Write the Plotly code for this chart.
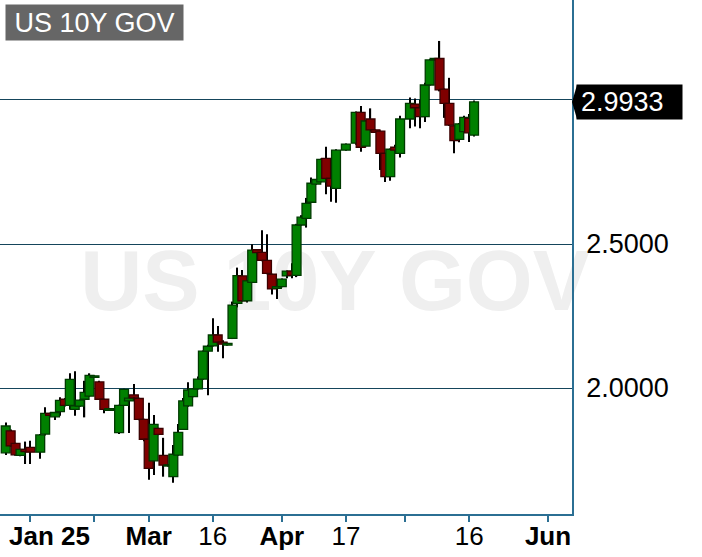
import plotly.graph_objects as go

# one slot per session (short Sunday sessions included); None = empty slot
open_ = [1.775, 1.851, 1.808, 1.766, 1.787, 1.794, None, 1.777, 1.840, 1.912,
         1.900, 1.918, 1.961, 1.940, 1.926, 1.937, 1.961, 1.972, 2.037, 2.021,
         1.961, 1.922, None, 1.845, 1.940, 1.955, 1.976, 1.964, 1.891, 1.822,
         1.747, 1.860, 1.766, 1.729, 1.692, 1.767, 1.856, 1.938, 1.970, 1.997,
         2.031, 2.128, 2.146, 2.184, 2.159, 2.149, 2.172, 2.294, 2.389, 2.303,
         2.367, 2.480, 2.471, 2.443, 2.395, 2.346, 2.352, 2.389, 2.406, 2.391,
         2.566, 2.589, 2.645, 2.708, 2.716, 2.797, 2.728, 2.693, None, 2.826,
         None, 2.850, 2.957, 2.840, 2.934, 2.896, 2.892, 2.815, 2.734, 2.836,
         2.815, None, 2.934, 2.986, 2.973, 2.942, 3.052, 3.139, 3.144, 3.038,
         2.988, 2.910, 2.863, 2.890, 2.936, 2.878]
high = [1.880, 1.856, 1.810, 1.789, 1.814, 1.817, None, 1.840, 1.933, 1.914,
        1.917, 1.968, 1.965, 2.051, 2.058, 1.960, 2.025, 2.051, 2.044, 2.025,
        1.963, 1.930, None, 1.942, 1.997, 1.967, 2.014, 1.966, 1.893, 1.949,
        1.906, 1.862, 1.827, 1.735, 1.802, 1.875, 1.965, 2.020, 1.999, 2.040,
        2.130, 2.150, 2.242, 2.215, 2.166, 2.157, 2.300, 2.418, 2.410, 2.375,
        2.499, 2.482, 2.548, 2.534, 2.397, 2.354, 2.380, 2.408, 2.433, 2.570,
        2.600, 2.660, 2.731, 2.726, 2.797, 2.838, 2.730, 2.829, None, 2.849,
        None, 2.960, 2.979, 2.930, 2.971, 2.898, 2.894, 2.817, 2.832, 2.845,
        2.945, None, 3.009, 3.005, 3.001, 3.060, 3.142, 3.146, 3.205, 3.040,
        3.077, 2.912, 2.920, 2.945, 2.951, 2.998]
low = [1.767, 1.795, 1.765, 1.763, 1.736, 1.736, None, 1.754, 1.835, 1.902,
       1.889, 1.904, 1.936, 1.925, 1.904, 1.935, 1.898, 1.970, 2.035, 1.958,
       1.912, 1.920, None, 1.840, 1.938, 1.844, 1.964, 1.888, 1.815, 1.681,
       1.698, 1.836, 1.692, 1.727, 1.671, 1.765, 1.854, 1.935, 1.968, 1.995,
       2.029, 1.975, 2.144, 2.126, 2.103, 2.147, 2.170, 2.280, 2.300, 2.297,
       2.365, 2.468, 2.440, 2.395, 2.325, 2.309, 2.350, 2.381, 2.381, 2.385,
       2.563, 2.557, 2.643, 2.706, 2.714, 2.673, 2.647, 2.643, None, 2.824,
       None, 2.845, 2.820, 2.835, 2.890, 2.886, 2.757, 2.715, 2.720, 2.820,
       2.800, None, 2.902, 2.908, 2.902, 2.924, 3.050, 3.137, 3.030, 2.938,
       2.910, 2.815, 2.853, 2.888, 2.854, 2.873]
close = [1.868, 1.799, 1.768, 1.787, 1.779, 1.777, None, 1.837, 1.912, 1.905,
         1.915, 1.957, 1.940, 2.030, 1.938, 1.958, 1.985, 2.044, 2.042, 1.961,
         1.926, 1.928, None, 1.940, 1.995, 1.965, 1.966, 1.891, 1.822, 1.721,
         1.874, 1.839, 1.732, 1.733, 1.770, 1.846, 1.955, 1.993, 1.997, 2.031,
         2.128, 2.145, 2.184, 2.159, 2.152, 2.155, 2.288, 2.390, 2.303, 2.372,
         2.479, 2.470, 2.443, 2.398, 2.344, 2.352, 2.378, 2.406, 2.391, 2.566,
         2.593, 2.641, 2.711, 2.724, 2.794, 2.728, 2.701, 2.826, None, 2.847,
         None, 2.957, 2.836, 2.927, 2.896, 2.888, 2.815, 2.734, 2.829, 2.826,
         2.934, None, 2.988, 2.973, 2.942, 3.052, 3.139, 3.144, 3.035, 2.988,
         2.913, 2.859, 2.917, 2.940, 2.886, 2.9933]

tick_slots = [5, 18, 29, 42, 56, 69, 81, 94, 110]
tick_text = ["", "", "<b>Mar</b>", "16", "<b>Apr</b>", "17", "", "16", "<b>Jun</b>"]
first_label = "<b>Jan 25</b>"
price_ticks = [2.0, 2.5, 3.0]
title = "US 10Y GOV"

FONT = "Liberation Sans, Arial, sans-serif"
AXIS = "#2b6f93"
GRID = "#15455b"

slots = list(range(len(close)))
up = [o is not None and c >= o for o, c in zip(open_, close)]
body_base = [None if o is None else min(o, c) for o, c in zip(open_, close)]
body_len = [None if o is None else max(abs(c - o), 0.004) for o, c in zip(open_, close)]
wick_len = [None if h is None else h - l for h, l in zip(high, low)]
last = close[-1]
# the last-price tag hides the axis label it sits on
price_text = ["" if abs(v - last) < 0.05 else f"{v:.4f}" for v in price_ticks]

fig = go.Figure()
fig.add_bar(x=slots, y=wick_len, base=low, width=0.25,
            marker=dict(color="black", line_width=0), hoverinfo="skip")
fig.add_bar(x=slots, y=body_len, base=body_base, width=1.8,
            marker=dict(color=["#008000" if u else "#800000" for u in up],
                        line=dict(color=["#003a00" if u else "#3a0000" for u in up], width=1.3)),
            hoverinfo="skip")

# faint watermark behind everything
fig.add_shape(type="rect", xref="paper", yref="paper", x0=0.086, x1=1.086, y0=0.07, y1=0.87,
              layer="below", line_width=0, fillcolor="rgba(0,0,0,0)",
              label=dict(text="<b>" + title + "</b>", textposition="middle center",
                         font=dict(family=FONT, size=86, color="#efefef")))

# instrument label top left
fig.add_annotation(xref="paper", yref="paper", x=5 / 572, y=1 - 4 / 514, xanchor="left", yanchor="top",
                   text=title, showarrow=False, bgcolor="#666666", width=177, height=35, borderpad=0,
                   font=dict(family=FONT, size=27, color="white"))

# last price marker
fig.add_shape(type="path", xref="paper", yref="y", xsizemode="pixel", xanchor=1,
              ysizemode="pixel", yanchor=last, path="M0,0 L5,17 L5,-17 Z",
              fillcolor="black", line_width=0)
fig.add_annotation(xref="paper", yref="y", x=1 + 4 / 572, y=last, xanchor="left", yanchor="middle",
                   text=f"{last:.4f}", showarrow=False, bgcolor="black", width=97, height=26,
                   borderpad=4, align="left", font=dict(family=FONT, size=27, color="white"))

fig.add_annotation(xref="x", yref="paper", x=8.9, y=0, yanchor="top", yshift=-5,
                   text=first_label, showarrow=False, font=dict(family=FONT, size=26, color="black"))

fig.update_layout(
    width=702, height=557,
    margin=dict(l=0, r=130, t=0, b=43),
    paper_bgcolor="white", plot_bgcolor="white",
    barmode="overlay", showlegend=False,
    font=dict(family=FONT, size=26, color="black"),
    xaxis=dict(range=[-1.16, 114.87], tickvals=tick_slots, ticktext=tick_text,
               ticks="outside", ticklen=6, tickwidth=1.5, tickcolor=AXIS,
               ticklabelstandoff=-8,
               showline=True, linecolor=AXIS, linewidth=1.5,
               showgrid=False, zeroline=False),
    yaxis=dict(side="right", range=[1.5625, 3.3472], tickvals=price_ticks, ticktext=price_text,
               tickfont=dict(size=27),
               showgrid=True, gridcolor=GRID, gridwidth=1.2,
               showline=True, linecolor=AXIS, linewidth=1.5,
               ticks="", ticklabelstandoff=7, zeroline=False),
)

fig.write_html("out.html", config={"displayModeBar": False},
               post_script="document.body.style.margin = '0';")
